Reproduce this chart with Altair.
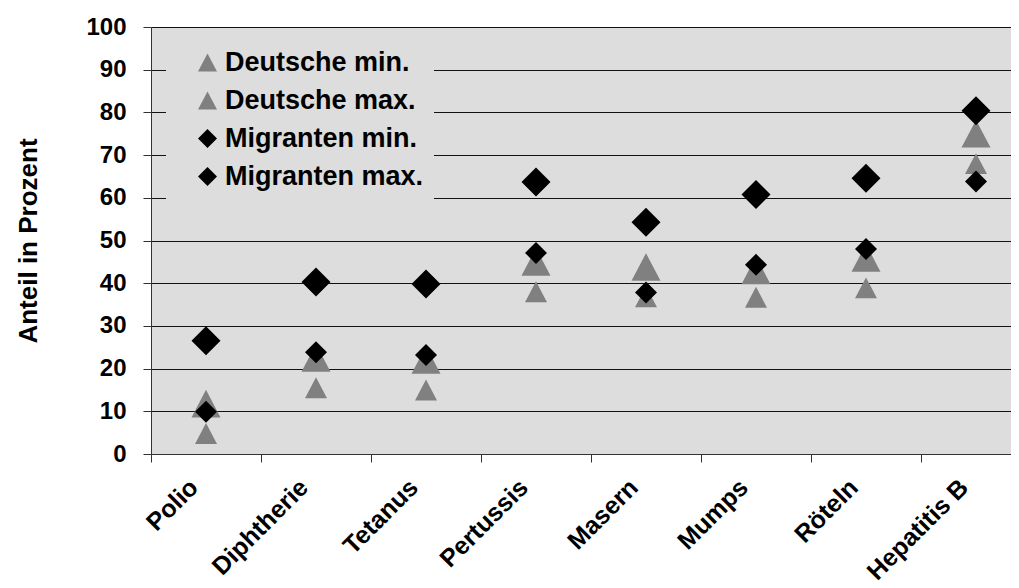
import altair as alt
import pandas as pd

categories = ["Polio", "Diphtherie", "Tetanus", "Pertussis", "Masern", "Mumps", "Röteln", "Hepatitis B"]
deutsche_min = [4.8, 15.5, 15.0, 38.0, 36.8, 36.7, 38.9, 68.0]
deutsche_max = [11.8, 22.5, 22.0, 45.0, 43.8, 43.0, 45.9, 75.0]
migranten_min = [9.9, 23.8, 23.2, 47.1, 37.8, 44.3, 48.0, 63.8]
migranten_max = [26.5, 40.3, 39.8, 63.7, 54.3, 60.8, 64.6, 80.4]

series_names = ["Deutsche min.", "Deutsche max.", "Migranten min.", "Migranten max."]
series_values = [deutsche_min, deutsche_max, migranten_min, migranten_max]
series_kind = ["min", "max", "min", "max"]

rows = []
for name, vals, kind in zip(series_names, series_values, series_kind):
    for cat, v in zip(categories, vals):
        rows.append({"Krankheit": cat, "Serie": name, "Wert": v, "Art": kind})
df = pd.DataFrame(rows)

FONT = "Liberation Sans"
TRI = "M-1,0.95L1,0.95L0,-0.95Z"

legend_cfg = dict(title=None, orient="none", legendX=15, legendY=12,
                  fillColor="#dddddd", padding=10, symbolOffset=18,
                  labelFont=FONT, labelFontSize=27, labelFontWeight="bold",
                  labelColor="black", labelLimit=400, symbolSize=361,
                  rowPadding=10, symbolStrokeWidth=0)

chart = alt.Chart(df).mark_point(filled=True, opacity=1, strokeWidth=0).encode(
    x=alt.X("Krankheit:N", sort=categories,
            scale=alt.Scale(type="band", range=[0, 880], paddingInner=0, paddingOuter=0),
            axis=alt.Axis(title=None, bandPosition=0, labelOffset=-12, labelAngle=-45,
                          labelAlign="right", labelBaseline="middle", tickSize=8,
                          labelPadding=21, labelFont=FONT, labelFontSize=25,
                          labelFontWeight="bold", labelColor="black", labelLimit=300,
                          domainColor="#333333", tickColor="#333333", grid=False)),
    y=alt.Y("Wert:Q", scale=alt.Scale(domain=[0, 100], nice=False),
            axis=alt.Axis(title="Anteil in Prozent", values=list(range(0, 101, 10)),
                          tickSize=8, labelPadding=17, labelFont=FONT, labelFontSize=24,
                          labelFontWeight="bold", labelColor="black",
                          titleFont=FONT, titleFontSize=26, titleFontWeight="bold",
                          titleColor="black", titleX=-123, titleBaseline="middle",
                          titleAlign="center", titleAngle=270,
                          grid=True, gridColor="#111111", gridWidth=1,
                          domainColor="#333333", tickColor="#333333")),
    color=alt.Color("Serie:N", scale=alt.Scale(domain=series_names,
                    range=["#808080", "#808080", "#000000", "#000000"]),
                    legend=alt.Legend(**legend_cfg)),
    shape=alt.Shape("Serie:N", scale=alt.Scale(domain=series_names,
                    range=[TRI, TRI, "diamond", "diamond"]),
                    legend=alt.Legend(**legend_cfg)),
    size=alt.Size("Art:N", scale=alt.Scale(domain=["min", "max"], range=[484, 841]), legend=None),
    order=alt.Order("Serie:N"),
).properties(
    width=860, height=427,
    background="white",
    autosize=alt.AutoSizeParams(type="none"),
    padding={"left": 143, "top": 19, "right": 0, "bottom": 134},
).configure_view(fill="#dddddd", strokeWidth=0)

chart.save("out.html", embed_options={"renderer": "svg", "actions": False})
